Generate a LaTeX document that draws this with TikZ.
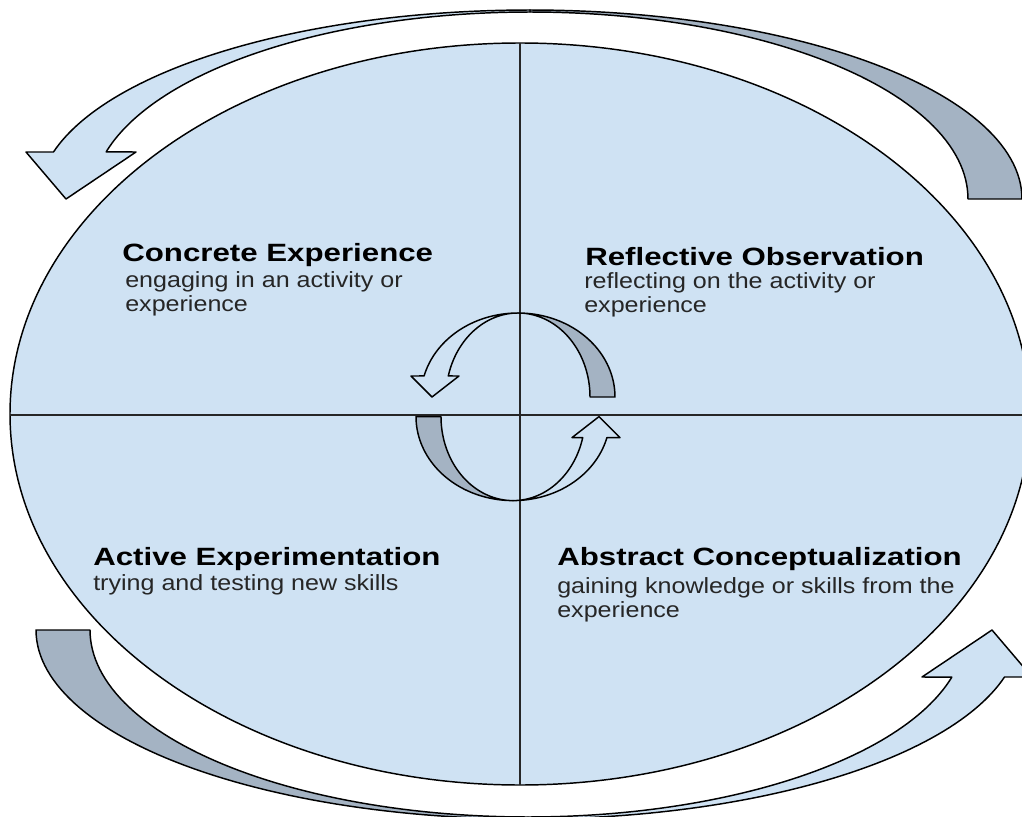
\documentclass[tikz,border=0pt]{standalone}
\usepackage{fontspec}
\setmainfont{Liberation Sans}
\newfontfamily\titlefont[FakeStretch=1.25]{Liberation Sans}
\newfontfamily\bodyfont[FakeStretch=1.14]{Liberation Sans}
\definecolor{lightblue}{HTML}{CFE2F3}
\definecolor{backgray}{HTML}{A4B3C3}
\begin{document}
\begin{tikzpicture}[x=0.75pt,y=-0.75pt,
  outline/.style={draw=black, line width=1.1pt, line join=round},
  front/.style={outline, fill=lightblue},
  back/.style={outline, fill=backgray},
  divider/.style={draw=black!85, line width=1.8pt},
  title/.style={anchor=base west, inner sep=0pt, text=black,
    font=\titlefont\bfseries\fontsize{18.75}{22}\selectfont},
  body/.style={anchor=base west, inner sep=0pt, text=black!85,
    font=\bodyfont\fontsize{16.5}{18}\selectfont},
]
\useasboundingbox (0,0) rectangle (1022,817);

% main ellipse
\filldraw[outline, fill=lightblue] (520,414) ellipse [x radius=510, y radius=371];

% dividers
\coordinate (vtop) at (520,43);
\coordinate (vbot) at (520,785);
\coordinate (hleft) at (10,415);
\coordinate (hright) at (1032,415);
\draw[divider] (vtop) -- (vbot);
\draw[divider] (hleft) -- (hright);

% big curved arrows (top one, and its 180-degree copy at the bottom)
\foreach \ang in {0,180}{
\begin{scope}[rotate around={\ang:(529,414.5)}]
  \filldraw[back] plot[domain=0:90, samples=60] ({530+492*cos(\x)},{199-189*sin(\x)})
    -- plot[domain=90:0, samples=60] ({530+438*cos(\x)},{199-187*sin(\x)}) -- cycle;
  \filldraw[front] plot[domain=90:165.6, samples=60] ({530+492*cos(\x)},{199-189*sin(\x)})
    -- (26,152) -- (66,199) -- (136,152)
    -- plot[domain=165.4:90, samples=60] ({530+438*cos(\x)},{199-187*sin(\x)}) -- cycle;
\end{scope}
}

% small circular arrows in the centre
\foreach \ang in {0,180}{
\begin{scope}[rotate around={\ang:(515.5,406.8)}]
  \filldraw[back] plot[domain=0:90, samples=40] ({518+97*cos(\x)},{397-84*sin(\x)})
    -- plot[domain=90:0, samples=40] ({518+72*cos(\x)},{397-84*sin(\x)}) -- cycle;
  \filldraw[front] plot[domain=90:165.5, samples=40] ({518+97*cos(\x)},{397-84*sin(\x)})
    -- (411,376) -- (432,397) -- (459,376)
    -- plot[domain=165.5:90, samples=40] ({518+72*cos(\x)},{397-84*sin(\x)}) -- cycle;
\end{scope}
}

% texts
\node[title] (ce)  at (122,261) {Concrete Experience};
\node[body]  (ce1) at (125,287) {engaging in an activity or};
\node[body]  (ce2) at (125,311) {experience};

\node[title] (ro)  at (585,265) {Reflective Observation};
\node[body]  (ro1) at (584,288) {reflecting on the activity or};
\node[body]  (ro2) at (584,312) {experience};

\node[title] (ae)  at (93,565) {Active Experimentation};
\node[body]  (ae1) at (93,590) {trying and testing new skills};

\node[title] (ac)  at (557,565) {Abstract Conceptualization};
\node[body]  (ac1) at (557,593) {gaining knowledge or skills from the};
\node[body]  (ac2) at (557,617) {experience};
\end{tikzpicture}
\end{document}
